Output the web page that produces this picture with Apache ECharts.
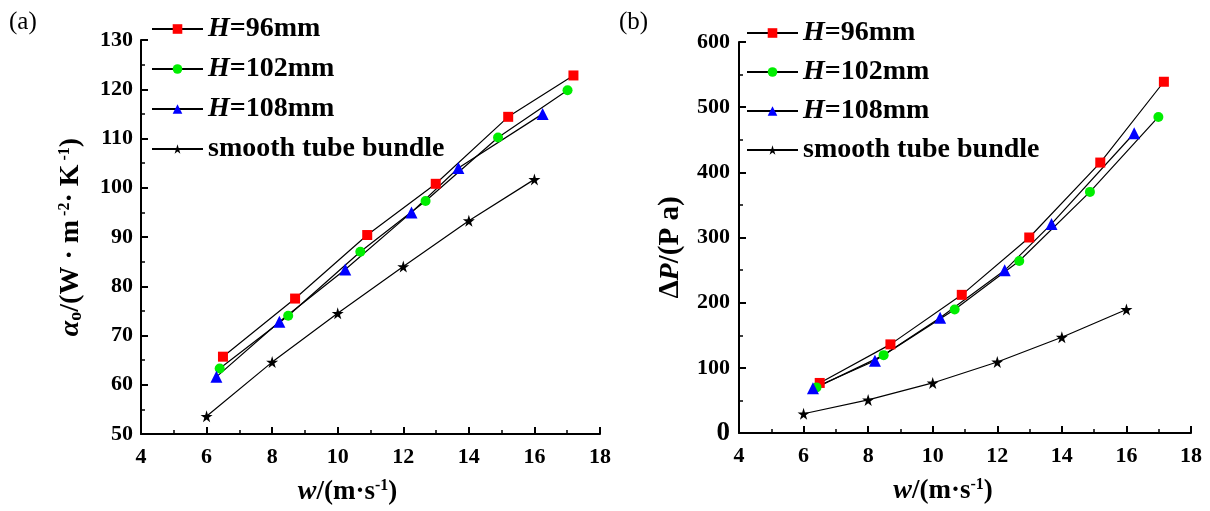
<!DOCTYPE html>
<html>
<head>
<meta charset="utf-8">
<script src="https://cdn.jsdelivr.net/npm/echarts@6/dist/echarts.min.js"></script>
<style>
html,body{margin:0;padding:0;background:#fff;}
#c{width:1210px;height:511px;}
</style>
</head>
<body>
<div id="c"></div>
<script>
// ---- data ----
const names = ['H=96mm', 'H=102mm', 'H=108mm', 'smooth tube bundle'];
// (a) heat transfer coefficient
const w96a  = [6.50, 8.70, 10.90, 12.99, 15.20, 17.19];
const a96   = [65.7, 77.5, 90.4, 100.8, 114.4, 122.8];
const w102a = [6.40, 8.49, 10.69, 12.68, 14.89, 17.01];
const a102  = [63.3, 74.0, 87.0, 97.3, 110.2, 119.8];
const w108a = [6.30, 8.22, 10.23, 12.25, 13.68, 16.25];
const a108  = [61.6, 72.8, 83.4, 95.0, 104.0, 115.0];
const wSa   = [6, 8, 10, 12, 14, 16];
const aS    = [53.6, 64.6, 74.5, 84.0, 93.3, 101.7];
// (b) pressure drop
const w96b  = [6.50, 8.69, 10.90, 12.99, 15.19, 17.16];
const p96   = [76.8, 136, 212, 300, 415, 539];
const w102b = [6.40, 8.48, 10.68, 12.68, 14.87, 16.99];
const p102  = [70, 119.5, 189.6, 264, 370, 485];
const w108b = [6.29, 8.21, 10.23, 12.23, 13.68, 16.24];
const p108  = [68.6, 110.8, 177, 249.6, 320.8, 460];
const wSb   = [6, 8, 10, 12, 14, 16];
const pS    = [29.5, 50.8, 76.8, 109, 147, 189.6];

const pair = (xs, ys) => xs.map((x, i) => [x, ys[i]]);
const FF = 'Liberation Serif';
const STAR = 'path://M50,0 L61,35 L98,35 L68,57 L79,91 L50,70 L21,91 L32,57 L2,35 L39,35 Z';

const markers = [
  {symbol: 'rect', size: 10, color: '#ff0000'},
  {symbol: 'circle', size: 10, color: '#00ee00'},
  {symbol: 'triangle', size: 12, color: '#0000ff'},
  {symbol: STAR, size: 12, color: '#000000'}
];

function mkSeries(idx, dataSets) {
  return dataSets.map((d, k) => ({
    type: 'line',
    name: names[k],
    xAxisIndex: idx, yAxisIndex: idx,
    data: d,
    symbol: markers[k].symbol,
    symbolSize: markers[k].size,
    showAllSymbol: true,
    itemStyle: {color: markers[k].color, borderWidth: 0},
    lineStyle: {color: '#000', width: 1.2},
    emphasis: {disabled: true},
    animation: false
  }));
}

const axisCommon = {
  axisLine: {show: true, onZero: false, lineStyle: {color: '#000', width: 2}},
  axisTick: {show: true, inside: true, length: 7, lineStyle: {color: '#000', width: 2}},
  minorTick: {show: true, splitNumber: 2, length: 4, lineStyle: {color: '#000', width: 1.5}},
  splitLine: {show: false},
  axisLabel: {color: '#000', fontFamily: FF, fontWeight: 'bold', fontSize: 22}
};

const nameStyleBase = {
  color: '#000', fontFamily: FF, fontWeight: 'bold', fontSize: 27,
  rich: {
    i: {fontFamily: FF, fontWeight: 'bold', fontStyle: 'italic', fontSize: 28, color: '#000'},
    sup: {fontFamily: FF, fontWeight: 'bold', fontSize: 16, verticalAlign: 'top', color: '#000'},
    sub: {fontFamily: FF, fontWeight: 'bold', fontSize: 18, verticalAlign: 'bottom', color: '#000'}
  }
};

function xAxis(idx, padRight) {
  return Object.assign({}, axisCommon, {
    type: 'value', gridIndex: idx, min: 4, max: 18, interval: 2,
    axisLabel: Object.assign({}, axisCommon.axisLabel, {margin: 12}),
    name: '{i|w}/(m·s{sup|-1})', nameLocation: 'middle', nameGap: 44,
    nameTextStyle: Object.assign({}, nameStyleBase, {padding: [0, padRight, 0, 0]})
  });
}

function legend(left, top, gap) {
  return {
    orient: 'vertical', left: left, top: top, padding: 0,
    itemWidth: 51, itemHeight: 12, itemGap: gap,
    data: names,
    selectedMode: false,
    formatter: n => n.startsWith('H=') ? '{i|H}' + n.slice(1) : n,
    textStyle: {
      color: '#000', fontFamily: FF, fontWeight: 'bold', fontSize: 28, lineHeight: 30,
      rich: {i: {fontFamily: FF, fontWeight: 'bold', fontStyle: 'italic', fontSize: 28, color: '#000'}}
    }
  };
}

const option = {
  backgroundColor: '#fff',
  animation: false,
  grid: [
    {left: 141, right: 610, top: 40, bottom: 74},
    {left: 739, right: 19, top: 42, bottom: 78}
  ],
  xAxis: [xAxis(0, 46), xAxis(1, 44)],
  yAxis: [
    Object.assign({}, axisCommon, {
      type: 'value', gridIndex: 0, min: 50, max: 130, interval: 10,
      axisLabel: Object.assign({}, axisCommon.axisLabel, {margin: 8}),
      name: '{i|α}{sub|o}/(W · m{sup| -2}· K{sup| -1})',
      nameLocation: 'middle', nameGap: 56, nameRotate: 90,
      nameTextStyle: Object.assign({}, nameStyleBase, {fontSize: 28})
    }),
    Object.assign({}, axisCommon, {
      type: 'value', gridIndex: 1, min: 0, max: 600, interval: 100,
      axisLabel: Object.assign({}, axisCommon.axisLabel, {
        margin: 9,
        formatter: v => v === 0 ? '{big|0}' : String(v),
        rich: {big: {fontFamily: FF, fontWeight: 'bold', fontSize: 27, color: '#000'}}
      }),
      name: 'Δ{i|P}/(P a)',
      nameLocation: 'middle', nameGap: 54, nameRotate: 90,
      nameTextStyle: Object.assign({}, nameStyleBase, {fontSize: 29, padding: [0, 20, 0, 0]})
    })
  ],
  legend: [legend(151, 14, 10), legend(746, 18, 9)],
  graphic: [
    {type: 'text', left: 9, top: 10, style: {text: '(a)', fontFamily: FF, fontSize: 25, fill: '#000'}},
    {type: 'text', left: 619, top: 10, style: {text: '(b)', fontFamily: FF, fontSize: 25, fill: '#000'}}
  ],
  series: [].concat(
    mkSeries(0, [pair(w96a, a96), pair(w102a, a102), pair(w108a, a108), pair(wSa, aS)]),
    mkSeries(1, [pair(w96b, p96), pair(w102b, p102), pair(w108b, p108), pair(wSb, pS)])
  )
};

const chart = echarts.init(document.getElementById('c'), null, {renderer: 'canvas'});
chart.setOption(option);
</script>
</body>
</html>
